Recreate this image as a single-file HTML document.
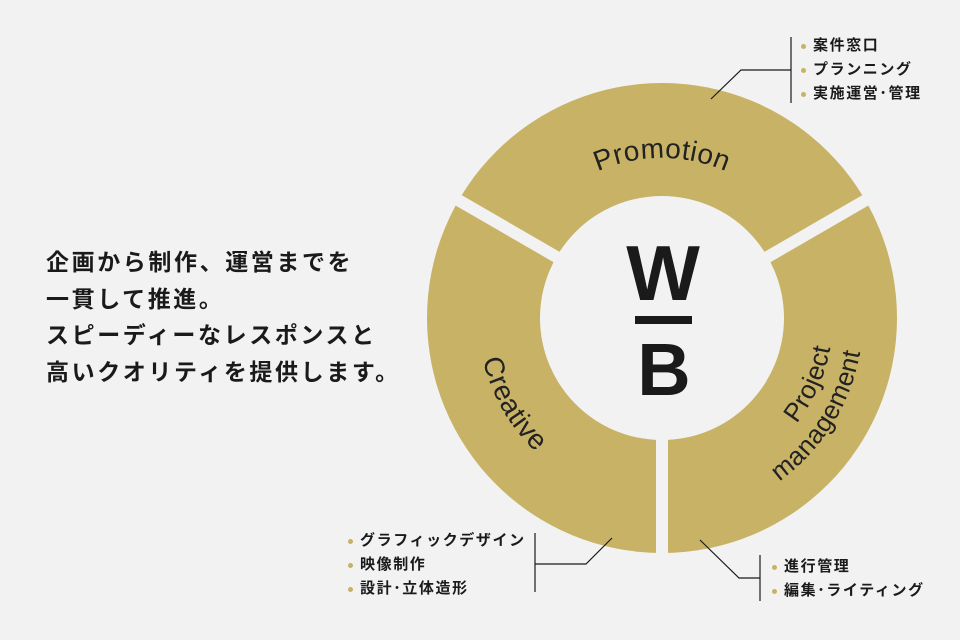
<!DOCTYPE html>
<html><head><meta charset="utf-8"><style>
html,body{margin:0;padding:0;background:#f2f2f2;}
body{width:960px;height:640px;position:relative;overflow:hidden;font-family:"Liberation Sans","Noto Sans CJK JP",sans-serif;}
.lead{position:absolute;left:46px;top:244px;font-size:23px;font-weight:bold;line-height:36.5px;color:#1a1a1a;letter-spacing:2.6px;}
.list{position:absolute;font-size:15px;font-weight:bold;color:#1a1a1a;line-height:24px;letter-spacing:1.6px;}
.list div{position:relative;padding-left:12px;white-space:nowrap;}
.list div:before{content:"";position:absolute;left:0;top:10px;width:5px;height:5px;border-radius:50%;background:#c8b266;}
</style></head><body>
<svg width="960" height="640" style="position:absolute;left:0;top:0">
<circle cx="662" cy="318" r="235" fill="#c8b266"/>
<circle cx="662" cy="318" r="122" fill="#f2f2f2"/>
<g stroke="#f2f2f2" stroke-width="12">
<line x1="662" y1="318" x2="662" y2="570"/>
<line x1="662" y1="318" x2="420" y2="178"/>
<line x1="662" y1="318" x2="904" y2="178"/>
</g>
<defs>
<path id="p1" d="M523.4,238 A160,160 0 0 1 800.6,238"/>
<path id="p2" d="M502.7,226 A184,184 0 0 0 662,502"/>
<path id="p3" d="M679.9,488.1 A171,171 0 0 0 800.3,217.5"/>
<path id="p4" d="M655,518.9 A201,201 0 0 0 839.5,223.6"/>
</defs>
<g font-family="Liberation Sans, sans-serif" fill="#222" font-size="28" letter-spacing="0.5">
<text><textPath href="#p1" startOffset="50%" text-anchor="middle">Promotion</textPath></text>
<text><textPath href="#p2" startOffset="50%" text-anchor="middle">Creative</textPath></text>
<text font-size="26"><textPath href="#p3" startOffset="50%" text-anchor="middle">Project</textPath></text>
<text font-size="26"><textPath href="#p4" startOffset="50%" text-anchor="middle">management</textPath></text>
</g>
<g fill="#1a1a1a">
<text x="663" y="300" font-family="Liberation Sans, sans-serif" font-weight="bold" font-size="78" text-anchor="middle">W</text>
<rect x="635" y="316" width="57" height="8"/>
<text x="664" y="395" font-family="Liberation Sans, sans-serif" font-weight="bold" font-size="74" text-anchor="middle">B</text>
</g>
<g stroke="#1a1a1a" stroke-width="1.2" fill="none">
<polyline points="711,99 741,70 791,70"/>
<line x1="791" y1="37" x2="791" y2="103"/>
<polyline points="612,538 586,564 535,564"/>
<line x1="535" y1="533" x2="535" y2="592"/>
<polyline points="700,540 739,578 760,578"/>
<line x1="760" y1="555" x2="760" y2="601"/>
</g>
</svg>
<div class="lead">企画から制作、運営までを<br>一貫して推進。<br>スピーディーなレスポンスと<br>高いクオリティを提供します。</div>
<div class="list" style="left:801px;top:34px"><div>案件窓口</div><div>プランニング</div><div>実施運営･管理</div></div>
<div class="list" style="left:348px;top:529px"><div>グラフィックデザイン</div><div>映像制作</div><div>設計･立体造形</div></div>
<div class="list" style="left:772px;top:555px"><div>進行管理</div><div>編集･ライティング</div></div>
</body></html>
